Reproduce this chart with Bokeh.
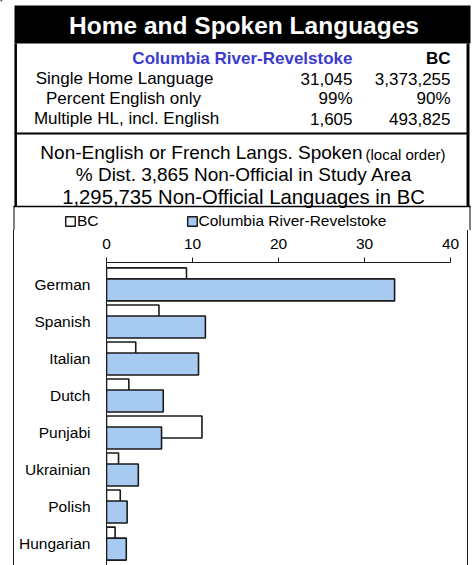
from bokeh.plotting import figure
from bokeh.layouts import column
from bokeh.models import Range1d, FactorRange, ColumnDataSource, FixedTicker, Legend, LegendItem
from bokeh.transform import dodge
from bokeh.core.properties import value
from bokeh.embed import file_html
from bokeh.resources import INLINE

# ---------------- data ----------------
title = "Home and Spoken Languages"
area_name = "Columbia River-Revelstoke"
prov_name = "BC"
table_labels = ["Single Home Language", "Percent English only", "Multiple HL, incl. English"]
table_local = ["31,045", "99%", "1,605"]
table_bc = ["3,373,255", "90%", "493,825"]
sub_line1 = "Non-English or French Langs. Spoken"
sub_line1_small = "(local order)"
sub_line2 = "% Dist. 3,865 Non-Official in Study Area"
sub_line3 = "1,295,735 Non-Official Languages in BC"

languages = ["German", "Spanish", "Italian", "Dutch", "Punjabi", "Ukrainian", "Polish", "Hungarian"]
bc_pct = [9.3, 6.1, 3.4, 2.6, 11.1, 1.4, 1.6, 1.0]
local_pct = [33.5, 11.5, 10.7, 6.6, 6.4, 3.7, 2.4, 2.3]
x_ticks = [0, 10, 20, 30, 40]

FONT = value("Liberation Sans")
BLUE = "#A6CAF0"
EDGE = "#1a1a1a"
HDR_H = 230

# ---------------- header figure (drawn in page-pixel coordinates) ----------------
hdr = figure(width=476, height=HDR_H, x_range=Range1d(0, 476), y_range=Range1d(HDR_H, 0),
             output_backend="svg", toolbar_location=None, min_border=0,
             x_axis_location=None, y_axis_location=None, outline_line_color=None,
             frame_align=False)
hdr.grid.visible = False

hdr.quad(left=[14], right=[470], top=[5], bottom=[43], fill_color="black", line_color=None)
hdr.text(x=[243.5], y=[25], text=[title], text_color="white", text_font=FONT,
         text_font_style="bold", text_font_size="24.5px", text_align="center", text_baseline="middle")

# borders of the table / text box and top of chart box
hdr.segment(x0=[15.2, 467.5, 14, 13, 13.5, 469.5], y0=[43, 43, 133, 206, 206, HDR_H],
            x1=[15.2, 467.5, 468, 470, 13.5, 469.5], y1=[206, 206, 133, 206, HDR_H, 206],
            line_color="black", line_width=[2.5, 3, 2, 1.5, 1, 1])

col_x_local = 352
col_x_bc = 450
hdr.text(x=[col_x_local], y=[58], text=[area_name], text_color="#3B3BCF", text_font=FONT,
         text_font_style="bold", text_font_size="17px", text_align="right", text_baseline="middle")
hdr.text(x=[col_x_bc], y=[58], text=[prov_name], text_color="black", text_font=FONT,
         text_font_style="bold", text_font_size="17px", text_align="right", text_baseline="middle")

row_y = [78, 98, 118]
row_cx = [124, 123, 126]
hdr.text(x=row_cx, y=row_y, text=table_labels, text_font=FONT, text_font_size="17px",
         text_align="center", text_baseline="middle", text_color="black")
hdr.text(x=[col_x_local] * 3, y=row_y, text=table_local, text_font=FONT, text_font_size="17px",
         text_align="right", text_baseline="middle", text_color="black")
hdr.text(x=[col_x_bc] * 3, y=row_y, text=table_bc, text_font=FONT, text_font_size="17px",
         text_align="right", text_baseline="middle", text_color="black")

hdr.text(x=[362], y=[152], text=[sub_line1], text_font=FONT, text_font_size="19px",
         text_align="right", text_baseline="middle", text_color="black")
hdr.text(x=[365], y=[153.5], text=[sub_line1_small], text_font=FONT, text_font_size="15px",
         text_align="left", text_baseline="middle", text_color="black")
hdr.text(x=[243.5], y=[174], text=[sub_line2], text_font=FONT, text_font_size="19px",
         text_align="center", text_baseline="middle", text_color="black")
hdr.text(x=[243], y=[196], text=[sub_line3], text_font=FONT, text_font_size="20.3px",
         text_align="center", text_baseline="middle", text_color="black")

# legend proxy renderers (placed off-canvas; used only for the legend swatches)
proxy = ColumnDataSource(dict(y=[-100], right=[1]))
lg_bc = hdr.hbar(y="y", right="right", left=0, height=1, source=proxy,
                 fill_color="white", line_color=EDGE, line_width=1.5)
lg_loc = hdr.hbar(y="y", right="right", left=0, height=1, source=proxy,
                  fill_color=BLUE, line_color=EDGE, line_width=1.5)
lg = Legend(items=[LegendItem(label=prov_name, renderers=[lg_bc]),
                   LegendItem(label=area_name, renderers=[lg_loc])],
            orientation="horizontal", location=(64, 0), padding=0, margin=0, spacing=87,
            glyph_width=12, glyph_height=12, label_standoff=1, label_height=14,
            border_line_color=None, background_fill_alpha=0,
            label_text_font="Liberation Sans", label_text_font_size="15.5px",
            label_text_color="black")
hdr.add_layout(lg)

# ---------------- chart figure ----------------
src = ColumnDataSource(dict(lang=languages, bc=bc_pct, local=local_pct))

p = figure(width=455, height=565 - HDR_H, x_range=Range1d(0, 40),
           y_range=FactorRange(factors=languages[::-1], range_padding=0.092,
                               range_padding_units="absolute"),
           x_axis_location="above", output_backend="svg", toolbar_location=None,
           min_border_left=92, min_border_right=19, min_border_top=32, min_border_bottom=0,
           outline_line_color=None, frame_align=False, margin=(0, 0, 0, 13))
p.styles = {"border-left": "1px solid #1a1a1a", "border-right": "1px solid #1a1a1a"}
p.grid.visible = False

p.hbar(y=dodge("lang", 0.1485, range=p.y_range), left=0, right="bc", height=0.594, source=src,
       fill_color="white", line_color=EDGE, line_width=1.6)
p.hbar(y=dodge("lang", -0.1485, range=p.y_range), left=0, right="local", height=0.594, source=src,
       fill_color=BLUE, line_color=EDGE, line_width=1.6)

xa = p.xaxis[0]
xa.ticker = FixedTicker(ticks=x_ticks)
xa.minor_tick_line_color = None
xa.major_tick_in = 0
xa.major_tick_out = 5
xa.major_label_standoff = 9
xa.axis_line_color = EDGE
xa.major_tick_line_color = EDGE
xa.major_label_text_font = "Liberation Sans"
xa.major_label_text_font_size = "15.5px"
xa.major_label_text_color = "black"

ya = p.yaxis[0]
ya.major_tick_line_color = None
ya.minor_tick_line_color = None
ya.major_label_standoff = 10
ya.axis_line_color = EDGE
ya.major_label_text_font = "Liberation Sans"
ya.major_label_text_font_size = "15.5px"
ya.major_label_text_color = "black"

layout = column(hdr, p, spacing=0)
open("out.html", "w").write(file_html(layout, INLINE))
